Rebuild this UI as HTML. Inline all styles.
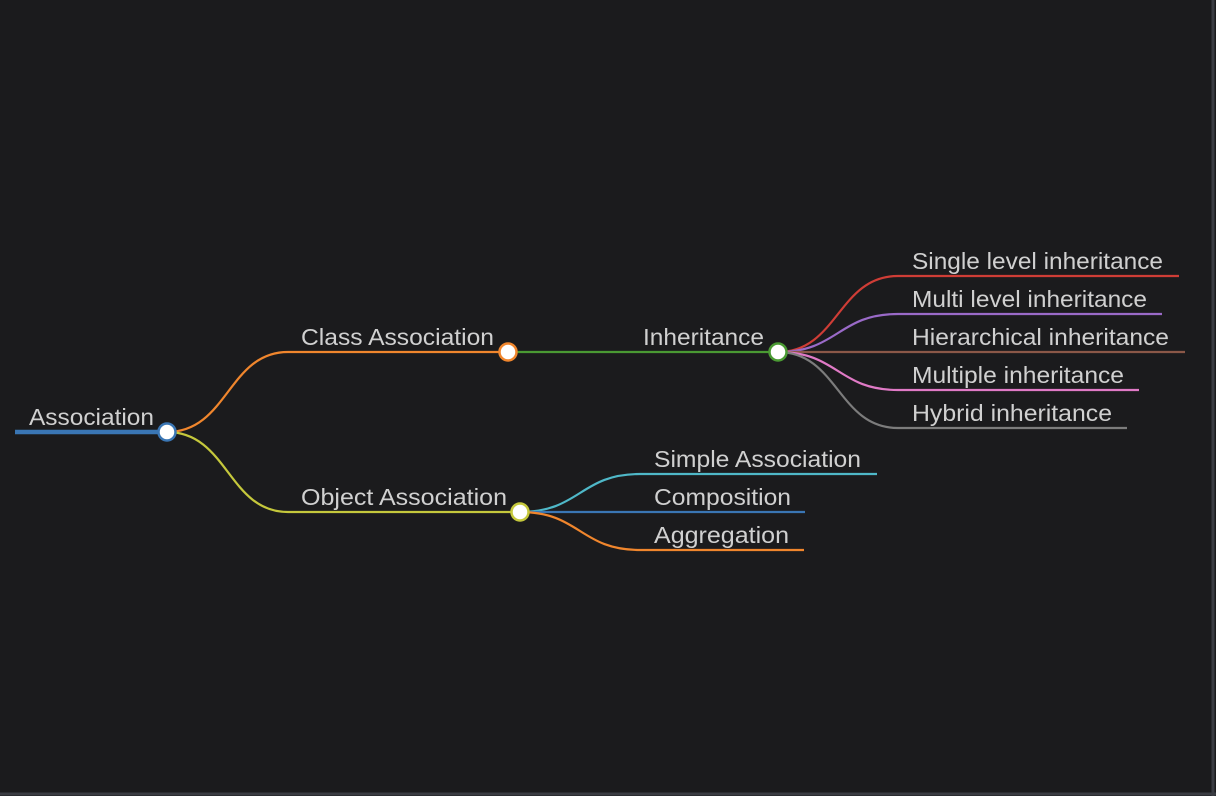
<!DOCTYPE html>
<html><head><style>
html,body{margin:0;padding:0;background:#1b1b1d;}
svg{display:block;}
text{font-family:"Liberation Sans",sans-serif;font-size:23px;fill:#d0d0d0;}
</style></head><body>
<svg width="1216" height="796" viewBox="0 0 1216 796">
<rect x="0" y="0" width="1216" height="796" fill="#1b1b1d"/>
<line x1="1213" y1="0" x2="1213" y2="796" stroke="#3a3c42" stroke-width="3"/>
<line x1="0" y1="794" x2="1216" y2="794" stroke="#3a3c42" stroke-width="3"/>
<g fill="none" stroke-width="2.2">
<line x1="15" y1="432" x2="167" y2="432" stroke="#3a76b4" stroke-width="4.5"/>
<path d="M167,432 C228,432 228,352 288,352 L508,352" stroke="#f0862d"/>
<path d="M167,432 C228,432 228,512 288,512 L520,512" stroke="#c5c83c"/>
<line x1="508" y1="352" x2="778" y2="352" stroke="#4a9a33"/>
<path d="M778,352 C838,352 838,276 898,276 L1179,276" stroke="#cf3d36"/>
<path d="M778,352 C838,352 838,314 898,314 L1162,314" stroke="#9a6ac8"/>
<path d="M778,352 L1185,352" stroke="#8b5848"/>
<path d="M778,352 C838,352 838,390 898,390 L1139,390" stroke="#e07ac6"/>
<path d="M778,352 C838,352 838,428 898,428 L1127,428" stroke="#7c7c7c"/>
<path d="M520,512 C580,512 580,474 640,474 L877,474" stroke="#4fb8c8"/>
<path d="M520,512 L805,512" stroke="#3a76b4"/>
<path d="M520,512 C580,512 580,550 640,550 L804,550" stroke="#f0862d"/>
</g>
<g fill="#fff" stroke-width="2.5">
<circle cx="167" cy="432" r="8.5" stroke="#3a76b4"/>
<circle cx="508" cy="352" r="8.5" stroke="#f0862d"/>
<circle cx="520" cy="512" r="8.5" stroke="#c5c83c"/>
<circle cx="778" cy="352" r="8.5" stroke="#4a9a33"/>
</g>
<text x="29" y="425" textLength="125" lengthAdjust="spacingAndGlyphs">Association</text>
<text x="301" y="345" textLength="193" lengthAdjust="spacingAndGlyphs">Class Association</text>
<text x="301" y="505" textLength="206" lengthAdjust="spacingAndGlyphs">Object Association</text>
<text x="643" y="345" textLength="121" lengthAdjust="spacingAndGlyphs">Inheritance</text>
<text x="912" y="269" textLength="251" lengthAdjust="spacingAndGlyphs">Single level inheritance</text>
<text x="912" y="307" textLength="235" lengthAdjust="spacingAndGlyphs">Multi level inheritance</text>
<text x="912" y="345" textLength="257" lengthAdjust="spacingAndGlyphs">Hierarchical inheritance</text>
<text x="912" y="383" textLength="212" lengthAdjust="spacingAndGlyphs">Multiple inheritance</text>
<text x="912" y="421" textLength="200" lengthAdjust="spacingAndGlyphs">Hybrid inheritance</text>
<text x="654" y="467" textLength="207" lengthAdjust="spacingAndGlyphs">Simple Association</text>
<text x="654" y="505" textLength="137" lengthAdjust="spacingAndGlyphs">Composition</text>
<text x="654" y="543" textLength="135" lengthAdjust="spacingAndGlyphs">Aggregation</text>
</svg>
</body></html>
